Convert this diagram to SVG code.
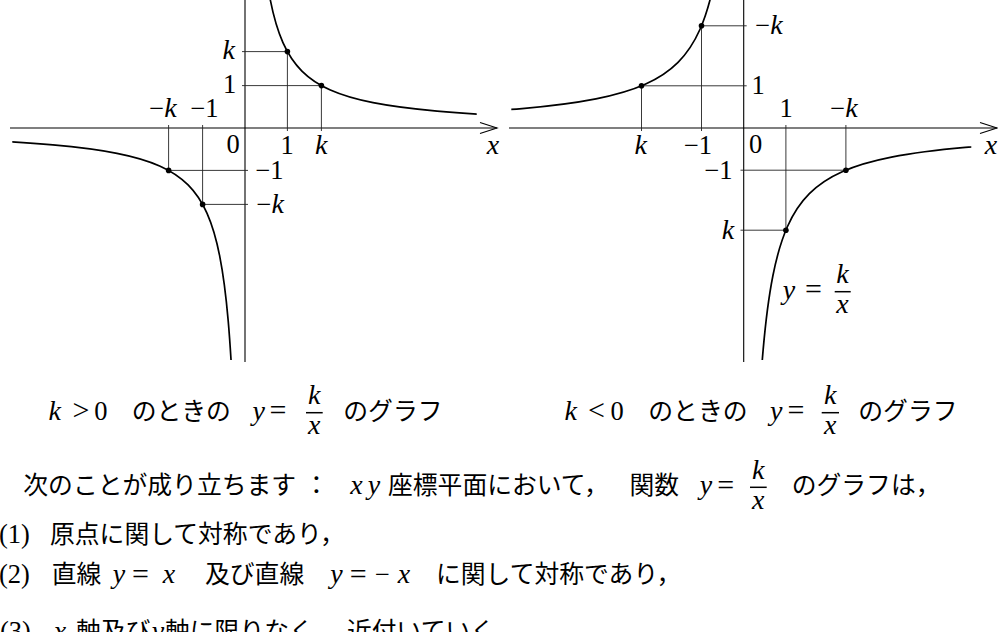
<svg xmlns="http://www.w3.org/2000/svg" xmlns:xlink="http://www.w3.org/1999/xlink" width="998" height="632" viewBox="0 0 998 632">
<style>
.r{font-family:"Liberation Serif","DejaVu Serif",serif;font-size:26.5px;fill:#000}
.m{font-family:"Liberation Serif","DejaVu Serif",serif;font-style:italic;font-size:28px;fill:#000}
.i{font-style:italic;font-size:28px}
.eq{font-size:30px}
.j{font-family:"Noto Sans CJK JP","Noto Sans CJK SC",sans-serif;font-size:24.8px;fill:#000}
.ax{stroke:#000;stroke-width:1.1;fill:none}
.gd{stroke:#222;stroke-width:0.9;fill:none}
.cvl{stroke:#000;stroke-width:3;fill:none}
.cvr{stroke:#000;stroke-width:2.6;fill:none}
.bar{stroke:#000;stroke-width:1.5}
.dot{fill:#000}
</style>
<defs>
<path id="hyp" d="M19.753 506.25 C23.045 421.875 26.337 375 29.630 337.5 C34.568 281.25 39.506 250 44.444 225 C51.852 187.5 59.259 166.667 66.667 150 C77.778 125 88.889 111.111 100 100 C116.667 83.333 133.333 74.074 150 66.667 C175 55.556 200 49.383 225 44.444 C262.5 37.037 300 32.922 337.5 29.630 C393.75 24.691 450 21.948 506.25 19.753"/>
<clipPath id="cL1"><rect x="246" y="-10" width="230.7" height="140"/></clipPath>
<clipPath id="cL3"><rect x="12.3" y="127" width="232" height="233"/></clipPath>
<clipPath id="cR2"><rect x="511.3" y="-10" width="232" height="139"/></clipPath>
<clipPath id="cR4"><rect x="744" y="127" width="227.3" height="233"/></clipPath>
</defs>

<g id="graph-left">
  <g id="left-axes">
    <line class="ax" x1="10" y1="128" x2="497" y2="128"/>
    <polyline class="ax" points="480,122.5 497,128 480,133.5"/>
    <line class="ax" x1="245" y1="0" x2="245" y2="362"/>
  </g>
  <g id="left-guides">
    <polyline class="gd" points="242,51.6 287.4,51.6 287.4,131"/>
    <polyline class="gd" points="242,85.6 321.4,85.6 321.4,131"/>
    <polyline class="gd" points="168.6,125 168.6,170.4 248,170.4"/>
    <polyline class="gd" points="202.6,125 202.6,204.4 248,204.4"/>
  </g>
  <g id="left-curves">
    <g clip-path="url(#cL1)"><use xlink:href="#hyp" class="cvl" transform="translate(245,128) scale(0.56916,-0.56916)"/></g>
    <g clip-path="url(#cL3)"><use xlink:href="#hyp" class="cvl" transform="translate(245,128) scale(-0.56916,0.56916)"/></g>
  </g>
  <g id="left-points">
    <circle class="dot" cx="287.4" cy="51.6" r="2.8"/>
    <circle class="dot" cx="321.4" cy="85.6" r="2.8"/>
    <circle class="dot" cx="168.6" cy="170.4" r="2.8"/>
    <circle class="dot" cx="202.6" cy="204.4" r="2.8"/>
  </g>
  <g id="left-labels">
    <text class="m" x="228.8" y="59" text-anchor="middle">k</text>
    <text class="r" x="229.5" y="93" text-anchor="middle">1</text>
    <text class="r" x="163" y="117" text-anchor="middle">−<tspan class="i">k</tspan></text>
    <text class="r" x="204.5" y="117" text-anchor="middle">−1</text>
    <text class="r" x="233" y="153" text-anchor="middle">0</text>
    <text class="r" x="287" y="154" text-anchor="middle">1</text>
    <text class="m" x="321.3" y="154" text-anchor="middle">k</text>
    <text class="m" x="493" y="154" text-anchor="middle">x</text>
    <text class="r" x="269.5" y="179" text-anchor="middle">−1</text>
    <text class="r" x="270.3" y="212.5" text-anchor="middle">−<tspan class="i">k</tspan></text>
  </g>
</g>

<g id="graph-right">
  <g id="right-axes">
    <line class="ax" x1="509" y1="128" x2="997" y2="128"/>
    <polyline class="ax" points="980,122.5 997,128 980,133.5"/>
    <line class="ax" x1="743.7" y1="0" x2="743.7" y2="362"/>
  </g>
  <g id="right-guides">
    <polyline class="gd" points="641.5,131 641.5,85.8 746.7,85.8"/>
    <polyline class="gd" points="701.5,131 701.5,25.8 746.7,25.8"/>
    <polyline class="gd" points="785.9,125 785.9,230.2 740.5,230.2"/>
    <polyline class="gd" points="845.9,125 845.9,170.2 740.5,170.2"/>
  </g>
  <g id="right-curves">
    <g clip-path="url(#cR2)"><use xlink:href="#hyp" class="cvr" transform="translate(743.7,128) scale(-0.65672,-0.65672)"/></g>
    <g clip-path="url(#cR4)"><use xlink:href="#hyp" class="cvr" transform="translate(743.7,128) scale(0.65672,0.65672)"/></g>
  </g>
  <g id="right-points">
    <circle class="dot" cx="641.5" cy="85.8" r="2.8"/>
    <circle class="dot" cx="701.5" cy="25.8" r="2.8"/>
    <circle class="dot" cx="785.9" cy="230.2" r="2.8"/>
    <circle class="dot" cx="845.9" cy="170.2" r="2.8"/>
  </g>
  <g id="right-labels">
    <text class="r" x="769" y="34" text-anchor="middle">−<tspan class="i">k</tspan></text>
    <text class="r" x="758" y="93.5" text-anchor="middle">1</text>
    <text class="r" x="786" y="117" text-anchor="middle">1</text>
    <text class="r" x="844" y="117" text-anchor="middle">−<tspan class="i">k</tspan></text>
    <text class="m" x="640.8" y="154" text-anchor="middle">k</text>
    <text class="r" x="698" y="154" text-anchor="middle">−1</text>
    <text class="r" x="755.5" y="153" text-anchor="middle">0</text>
    <text class="m" x="991" y="154" text-anchor="middle">x</text>
    <text class="r" x="718.5" y="179" text-anchor="middle">−1</text>
    <text class="m" x="728" y="239" text-anchor="middle">k</text>
    <g id="right-formula">
      <text class="m" x="789" y="298.5" text-anchor="middle">y</text>
      <text class="r eq" x="813.5" y="299" text-anchor="middle">=</text>
      <line class="bar" x1="834.7" y1="291.7" x2="850.7" y2="291.7"/>
      <text class="m" x="842.5" y="283" text-anchor="middle">k</text>
      <text class="m" x="842.5" y="313.2" text-anchor="middle">x</text>
    </g>
  </g>
</g>

<g id="caption-left">
  <text class="m" x="54.6" y="419.5" text-anchor="middle">k</text>
  <text class="r eq" x="81" y="420" text-anchor="middle">&gt;</text>
  <text class="r" x="100.8" y="419.5" text-anchor="middle">0</text>
  <text class="j" x="131.7" y="420">のときの</text>
  <text class="m" x="258.8" y="419.5" text-anchor="middle">y</text>
  <text class="r eq" x="278" y="420" text-anchor="middle">=</text>
  <line class="bar" x1="306" y1="412.7" x2="322.7" y2="412.7"/>
  <text class="m" x="314.3" y="404" text-anchor="middle">k</text>
  <text class="m" x="314.3" y="434.2" text-anchor="middle">x</text>
  <text class="j" x="343.3" y="420">のグラフ</text>
</g>

<g id="caption-right">
  <text class="m" x="570.8" y="419.5" text-anchor="middle">k</text>
  <text class="r eq" x="596.5" y="420" text-anchor="middle">&lt;</text>
  <text class="r" x="617" y="419.5" text-anchor="middle">0</text>
  <text class="j" x="648.3" y="420">のときの</text>
  <text class="m" x="776.3" y="419.5" text-anchor="middle">y</text>
  <text class="r eq" x="796" y="420" text-anchor="middle">=</text>
  <line class="bar" x1="821.7" y1="412.7" x2="839" y2="412.7"/>
  <text class="m" x="830.3" y="404" text-anchor="middle">k</text>
  <text class="m" x="830.3" y="434.2" text-anchor="middle">x</text>
  <text class="j" x="858.3" y="420">のグラフ</text>
</g>

<g id="statement">
  <text class="j" x="23.3" y="494">次のことが成り立ちます</text>
  <text class="j" x="316.5" y="494" text-anchor="middle">：</text>
  <text class="m" x="356.5" y="494" text-anchor="middle">x</text>
  <text class="m" x="374" y="494" text-anchor="middle">y</text>
  <text class="j" x="388" y="494">座標平面において，</text>
  <text class="j" x="629.5" y="494">関数</text>
  <text class="m" x="706" y="494" text-anchor="middle">y</text>
  <text class="r eq" x="725.8" y="494.5" text-anchor="middle">=</text>
  <line class="bar" x1="750" y1="487.3" x2="766.7" y2="487.3"/>
  <text class="m" x="758.3" y="478.6" text-anchor="middle">k</text>
  <text class="m" x="758.3" y="508.8" text-anchor="middle">x</text>
  <text class="j" x="791.7" y="494">のグラフは，</text>
</g>

<g id="item-1">
  <text class="r" x="14.5" y="543" text-anchor="middle">(1)</text>
  <text class="j" x="50" y="543">原点に関して対称であり，</text>
</g>

<g id="item-2">
  <text class="r" x="14.5" y="583" text-anchor="middle">(2)</text>
  <text class="j" x="51.7" y="583">直線</text>
  <text class="m" x="119" y="583" text-anchor="middle">y</text>
  <text class="r eq" x="140.5" y="583.5" text-anchor="middle">=</text>
  <text class="m" x="169" y="583" text-anchor="middle">x</text>
  <text class="j" x="205" y="583">及び直線</text>
  <text class="m" x="336.5" y="583" text-anchor="middle">y</text>
  <text class="r eq" x="358.3" y="583.5" text-anchor="middle">=</text>
  <text class="r" x="382.5" y="583" text-anchor="middle">−</text>
  <text class="m" x="404" y="583" text-anchor="middle">x</text>
  <text class="j" x="436" y="583">に関して対称であり，</text>
</g>

<g id="item-3">
  <text class="r" x="15.5" y="639.5" text-anchor="middle">(3)</text>
  <text class="m" x="60" y="639.5" text-anchor="middle">x</text>
  <text class="j" x="76" y="639.5">軸及び</text>
  <text class="m" x="158" y="639.5" text-anchor="middle">y</text>
  <text class="j" x="165" y="639.5">軸に限りなく</text>
  <text class="j" x="347" y="639.5">近付いていく</text>
</g>
</svg>
